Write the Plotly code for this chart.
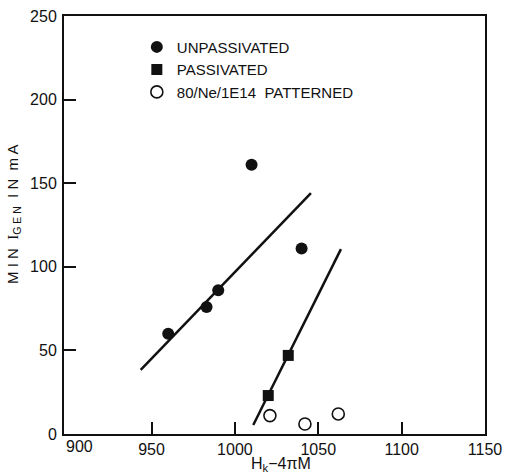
import plotly.graph_objects as go

# Data
unpass_x = [960, 983, 990, 1010, 1040]
unpass_y = [60, 76, 86, 161, 111]
pass_x = [1020, 1032]
pass_y = [23, 47]
patt_x = [1021, 1042, 1062]
patt_y = [11, 6, 12]
# hand-drawn fit lines (end points)
unpass_fit_x = [943.5, 1045.6]
unpass_fit_y = [38.3, 144]
pass_fit_x = [1011, 1063.6]
pass_fit_y = [5.4, 110.6]

x_ticks = [950, 1000, 1050, 1100, 1150]
y_ticks = [0, 50, 100, 150, 200, 250]

FONT = "Liberation Sans, Arial, Helvetica, sans-serif"
INK = "#111111"

fig = go.Figure()
fig.add_trace(go.Scatter(x=unpass_fit_x, y=unpass_fit_y, mode="lines",
                         line=dict(color=INK, width=2.5), showlegend=False, hoverinfo="skip"))
fig.add_trace(go.Scatter(x=pass_fit_x, y=pass_fit_y, mode="lines",
                         line=dict(color=INK, width=2.5), showlegend=False, hoverinfo="skip"))
fig.add_trace(go.Scatter(x=unpass_x, y=unpass_y, mode="markers", name="UNPASSIVATED",
                         marker=dict(symbol="circle", size=12, color=INK)))
fig.add_trace(go.Scatter(x=pass_x, y=pass_y, mode="markers", name="PASSIVATED",
                         marker=dict(symbol="square", size=11, color=INK)))
fig.add_trace(go.Scatter(x=patt_x, y=patt_y, mode="markers", name="80/Ne/1E14  PATTERNED",
                         marker=dict(symbol="circle-open", size=12, color=INK,
                                     line=dict(width=1.6, color=INK))))

fig.update_layout(
    width=505, height=476,
    margin=dict(l=64, r=20, t=16, b=42, autoexpand=False),
    paper_bgcolor="white", plot_bgcolor="white",
    font=dict(family=FONT, size=16, color=INK),
    showlegend=True,
    legend=dict(x=0.173, y=0.965, xanchor="left", yanchor="top",
                bgcolor="rgba(0,0,0,0)", font=dict(size=15, family=FONT, color=INK),
                itemsizing="trace", tracegroupgap=0),
)
fig.update_xaxes(range=[897.5, 1150], tickvals=x_ticks, ticktext=[str(v) for v in x_ticks],
                 ticks="inside", ticklen=12, tickwidth=1.5, tickcolor=INK, automargin=False,
                 showline=True, linewidth=2, linecolor=INK, mirror=True,
                 showgrid=False, zeroline=False, tickfont=dict(size=16), ticklabelstandoff=0)
fig.update_yaxes(range=[0, 250], tickvals=y_ticks, ticktext=[str(v) for v in y_ticks],
                 ticks="inside", ticklen=12, tickwidth=1.5, tickcolor=INK, automargin=False,
                 showline=True, linewidth=2, linecolor=INK, mirror=True,
                 showgrid=False, zeroline=False, tickfont=dict(size=16), ticklabelstandoff=2)

# separate "900" label (shifted right in the original)
fig.add_annotation(x=900, y=0, xref="x", yref="y", text="900", showarrow=False,
                   xanchor="center", yanchor="top", xshift=11, yshift=-2,
                   font=dict(size=16, family=FONT, color=INK))
# axis titles
fig.add_annotation(x=0.5, y=0, xref="paper", yref="paper", text="H<sub>k</sub>\u22124\u03c0M",
                   showarrow=False, xanchor="center", yanchor="top", xshift=6, yshift=-19,
                   font=dict(size=16, family=FONT, color=INK))
fig.add_annotation(x=0, y=0.5, xref="paper", yref="paper",
                   text="M I N  <span style='font-family:Liberation Serif'>I</span><sub>G E N</sub>  I N  m A",
                   showarrow=False, textangle=-90, xanchor="center", yanchor="middle",
                   xshift=-51, yshift=10, font=dict(size=15, family=FONT, color=INK))

fig.write_html("out.html")
